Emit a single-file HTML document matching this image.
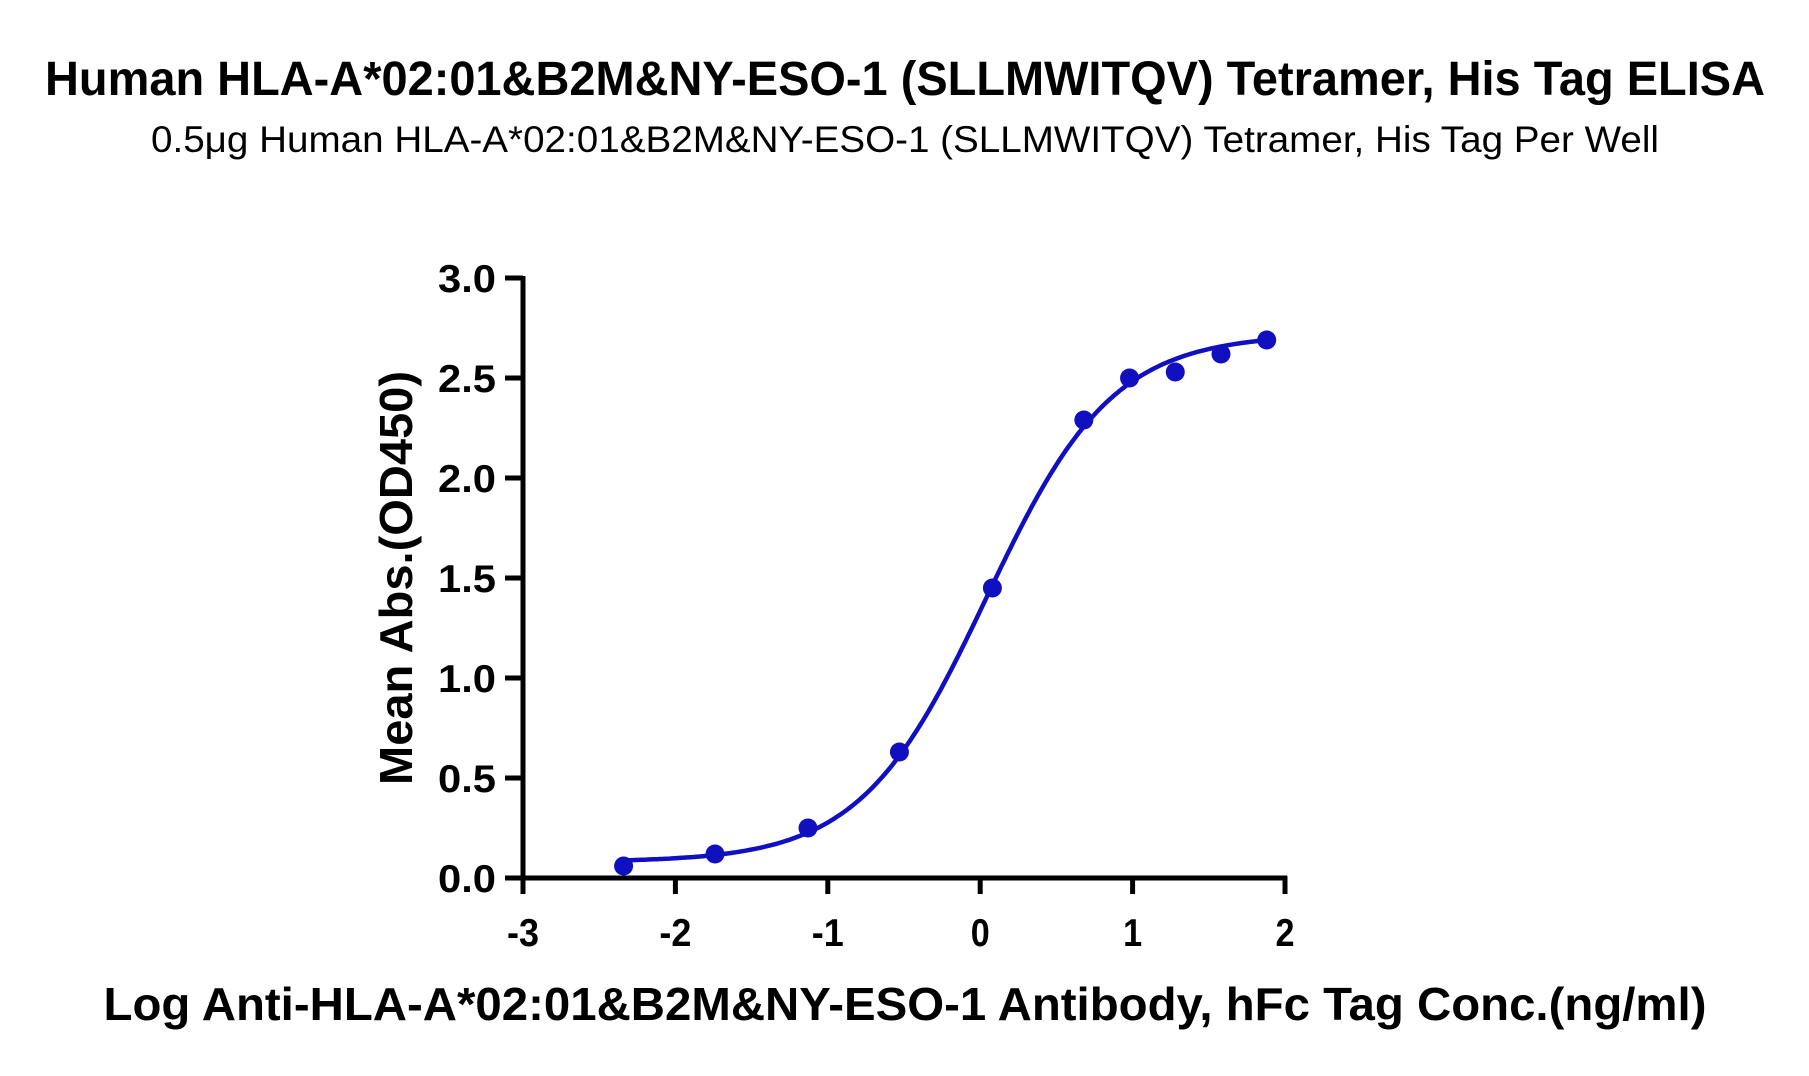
<!DOCTYPE html>
<html><head><meta charset="utf-8"><style>
html,body{margin:0;padding:0;background:#fff;}
svg{display:block;}
text{font-family:"Liberation Sans",sans-serif;fill:#000;}
</style></head><body>
<svg id="s" width="1809" height="1076" viewBox="0 0 1809 1076" xmlns="http://www.w3.org/2000/svg">
<text x="905" y="95" text-anchor="middle" font-size="48" font-weight="bold" textLength="1720" lengthAdjust="spacingAndGlyphs">Human HLA-A*02:01&amp;B2M&amp;NY-ESO-1 (SLLMWITQV) Tetramer, His Tag ELISA</text>
<text x="905" y="152" text-anchor="middle" font-size="37" textLength="1508" lengthAdjust="spacingAndGlyphs">0.5μg Human HLA-A*02:01&amp;B2M&amp;NY-ESO-1 (SLLMWITQV) Tetramer, His Tag Per Well</text>
<text x="905" y="1020" text-anchor="middle" font-size="46" font-weight="bold" textLength="1603" lengthAdjust="spacingAndGlyphs">Log Anti-HLA-A*02:01&amp;B2M&amp;NY-ESO-1 Antibody, hFc Tag Conc.(ng/ml)</text>
<text transform="translate(412,578) rotate(-90)" text-anchor="middle" font-size="46" font-weight="bold" textLength="414" lengthAdjust="spacingAndGlyphs">Mean Abs.(OD450)</text>
<g id="ax" stroke="#000" stroke-width="5" fill="none"></g>
<g id="lb" font-size="39" font-weight="bold"></g>
<path id="cv" fill="none" stroke="#1010c0" stroke-width="4.5"/>
<g id="pt" fill="#1010c0"></g>
</svg>
<script>
var X=function(v){return 523+(v+3)*152.4;},Y=function(v){return 878-v*200;};
var ns="http://www.w3.org/2000/svg";
function el(p,t,a,txt){var e=document.createElementNS(ns,t);for(var k in a)e.setAttribute(k,a[k]);if(txt!==undefined)e.textContent=txt;document.getElementById(p).appendChild(e);}
el("ax","line",{x1:523,y1:276,x2:523,y2:880});
el("ax","line",{x1:505,y1:878,x2:1287,y2:878});
for(var i=0;i<=6;i++){var y=Y(i*0.5);el("ax","line",{x1:505,y1:y,x2:523,y2:y});
el("lb","text",{x:496,y:y+14,"text-anchor":"end",textLength:58,lengthAdjust:"spacingAndGlyphs"},(i*0.5).toFixed(1));}
for(var j=-3;j<=2;j++){var x=X(j);el("ax","line",{x1:x,y1:876,x2:x,y2:894});
el("lb","text",{x:x,y:946,"text-anchor":"middle",textLength:(j<0?32:19),lengthAdjust:"spacingAndGlyphs"},String(j));}
var d="";for(var v=-2.34;v<=1.9;v+=0.02){var yy=0.08+2.64/(1+Math.pow(10,(0.04-v)*1.05));d+=(d?"L":"M")+X(v).toFixed(1)+","+Y(yy).toFixed(1);}
document.getElementById("cv").setAttribute("d",d);
var px=[-2.34,-1.74,-1.13,-0.53,0.08,0.68,0.98,1.28,1.58,1.88],py=[0.06,0.12,0.25,0.63,1.45,2.29,2.50,2.53,2.62,2.69];
for(var k=0;k<px.length;k++)el("pt","circle",{cx:X(px[k]),cy:Y(py[k]),r:9.5});
</script>
</body></html>
